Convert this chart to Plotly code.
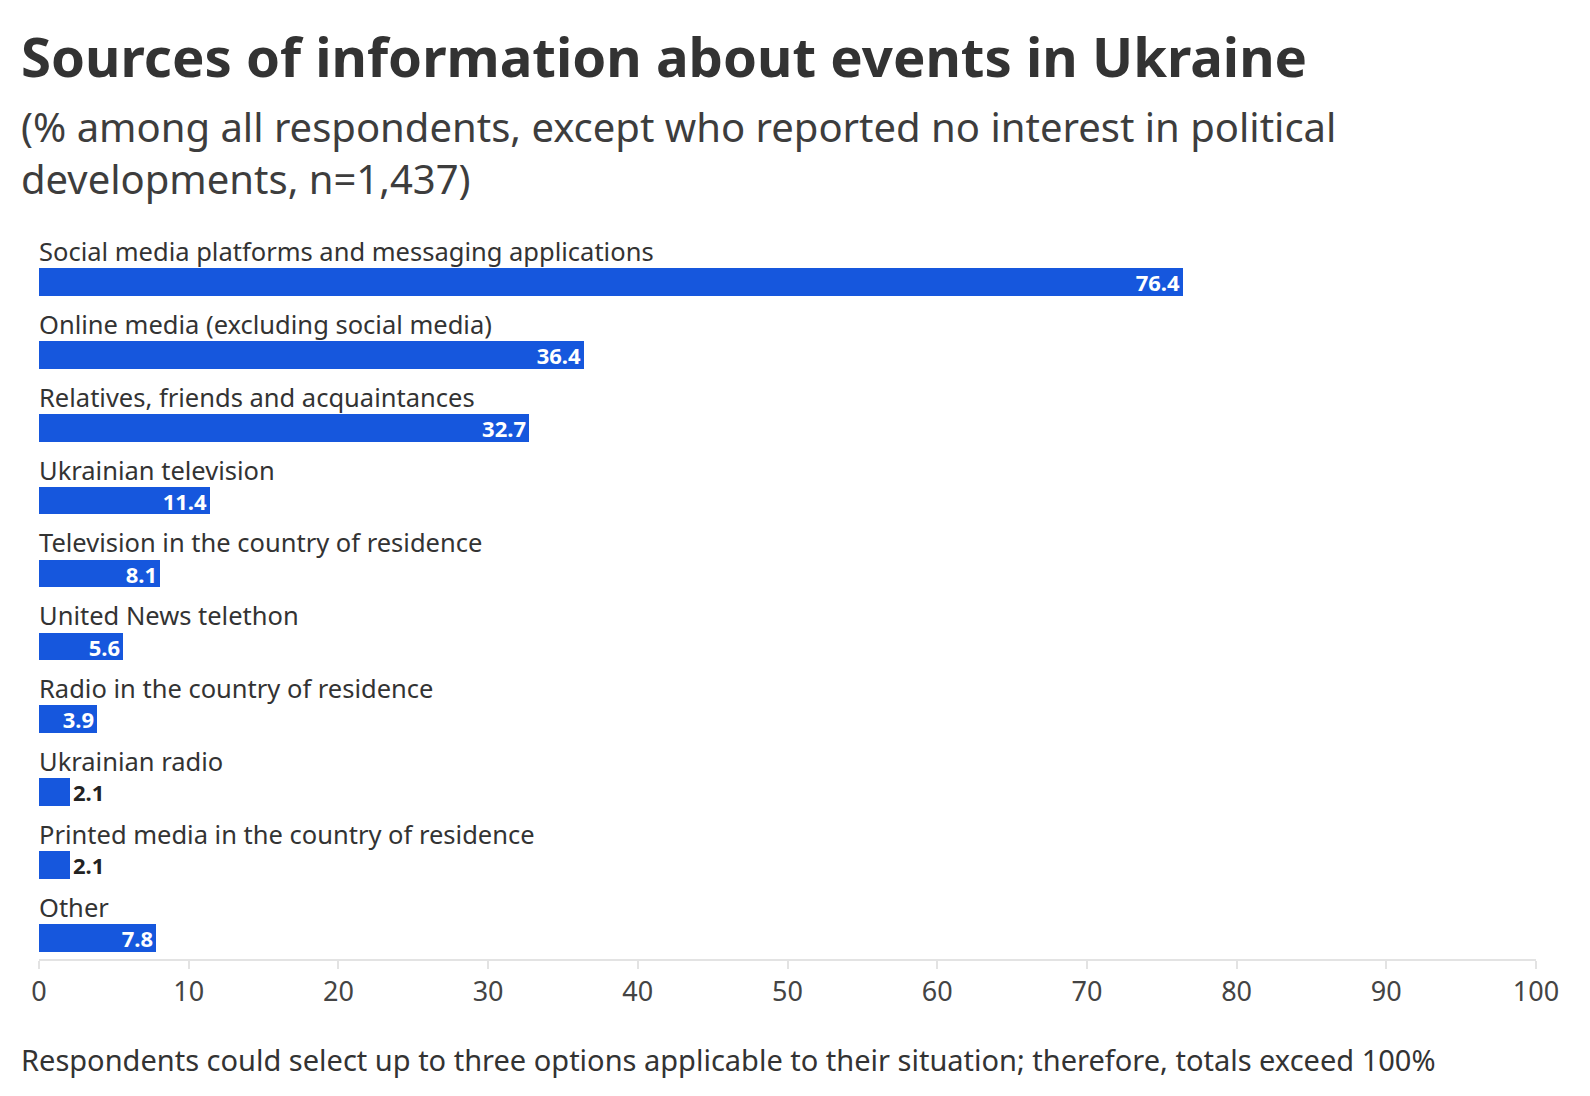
import plotly.graph_objects as go

# survey answers, top to bottom as in the chart
sources = [
    "Social media platforms and messaging applications",
    "Online media (excluding social media)",
    "Relatives, friends and acquaintances",
    "Ukrainian television",
    "Television in the country of residence",
    "United News telethon",
    "Radio in the country of residence",
    "Ukrainian radio",
    "Printed media in the country of residence",
    "Other",
]
shares = [76.4, 36.4, 32.7, 11.4, 8.1, 5.6, 3.9, 2.1, 2.1, 7.8]
tick_values = [0, 10, 20, 30, 40, 50, 60, 70, 80, 90, 100]

title = "Sources of information about events in Ukraine"
subtitle = ("(% among all respondents, except who reported no interest in political<br>"
            "developments, n=1,437)")
footer = ("Respondents could select up to three options applicable to their "
          "situation; therefore, totals exceed 100%")

# page body adds an 8px margin, so the figure is 16px smaller than the window
W, H = 1574, 1080
LEFT, RIGHT = 31, 1528
TOP, BOTTOM = 212, 951
BLUE = "#1657dd"
FONT = "Noto Sans"


def py(pix):
    # pixel row -> paper y
    return (BOTTOM - pix) / (BOTTOM - TOP)


# small bars get their number outside in dark text
positions = ["outside" if v < 3 else "inside" for v in shares]
text_colors = ["#222222" if v < 3 else "white" for v in shares]

fig = go.Figure()
fig.add_trace(go.Bar(
    x=shares,
    y=list(range(len(sources))),
    orientation="h",
    width=0.38,
    marker=dict(color=BLUE, line=dict(width=0)),
    text=[f"{v:.1f}" for v in shares],
    textposition=positions,
    insidetextanchor="end",
    constraintext="none",
    textfont=dict(family=FONT, size=22, color=text_colors, weight="bold"),
    cliponaxis=False,
    hoverinfo="skip",
))

# category labels sit above each bar
for i, name in enumerate(sources):
    fig.add_annotation(
        x=0, y=i, xref="x", yref="y", text=name, showarrow=False,
        xanchor="left", yanchor="middle", yshift=31, xshift=-2,
        font=dict(family=FONT, size=25.5, color="#333333"),
    )

fig.add_annotation(
    x=0, y=py(48), xref="paper", yref="paper", text=f"<b>{title}</b>",
    showarrow=False, xanchor="left", yanchor="middle", xshift=-20,
    font=dict(family=FONT, size=54.5, color="#333333"),
)
fig.add_annotation(
    x=0, y=py(144), xref="paper", yref="paper", text=subtitle,
    showarrow=False, xanchor="left", yanchor="middle", align="left", xshift=-20,
    font=dict(family=FONT, size=40, color="#3d3d3d"),
)
fig.add_annotation(
    x=0, y=py(1051), xref="paper", yref="paper", text=footer,
    showarrow=False, xanchor="left", yanchor="middle", xshift=-20,
    font=dict(family=FONT, size=29, color="#333333"),
)

fig.update_layout(
    width=W, height=H,
    margin=dict(l=LEFT, r=W - RIGHT, t=TOP, b=H - BOTTOM),
    paper_bgcolor="white", plot_bgcolor="white",
    showlegend=False,
    bargap=0,
    xaxis=dict(
        range=[0, 100], tickvals=tick_values,
        showgrid=False, zeroline=False,
        showline=True, linecolor="#e3e3e3", linewidth=2,
        ticks="outside", ticklen=8, tickcolor="#e3e3e3", tickwidth=2,
        tickfont=dict(family=FONT, size=27, color="#444444"),
        fixedrange=True,
    ),
    yaxis=dict(
        range=[len(sources) - 1 + 0.29, -0.85],
        showticklabels=False, showgrid=False, zeroline=False,
        showline=False, fixedrange=True,
    ),
)

fig.write_html("out.html")
